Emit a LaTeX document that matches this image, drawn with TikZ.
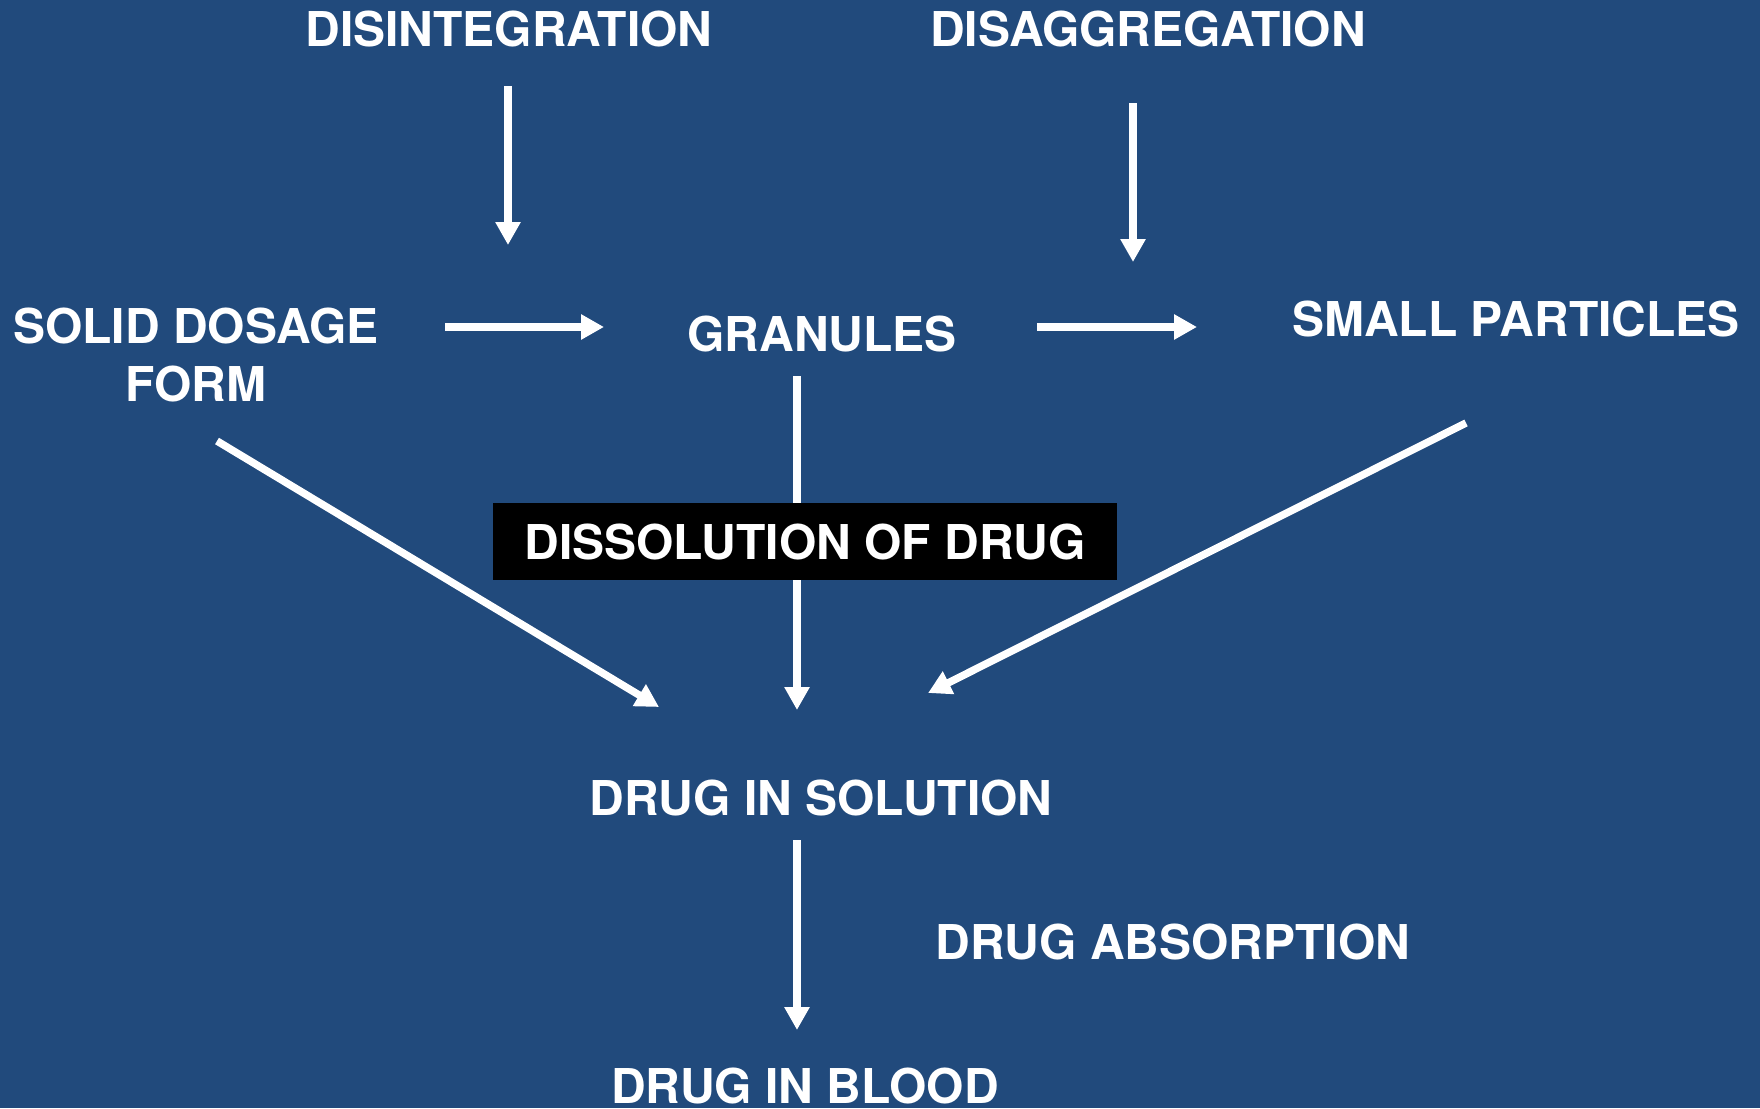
\documentclass[tikz,border=0pt]{standalone}
\usepackage{fontspec}
\setmainfont{TeX Gyre Heros}
\usetikzlibrary{arrows.meta}
\definecolor{bgblue}{HTML}{214A7C}
\begin{document}
\begin{tikzpicture}[x=1pt,y=-1pt,
  lbl/.style={text=white,font=\fontsize{48}{58}\selectfont\bfseries,inner sep=0pt,anchor=base,align=center},
  conn/.style={draw=white,line width=7.5pt,-{Triangle[width=24pt,length=23pt]}},
  boxlbl/.style={fill=black,text=white,font=\fontsize{48}{58}\selectfont\bfseries,minimum width=624pt,minimum height=77pt,inner sep=0pt}]
\useasboundingbox (0,0) rectangle (1760,1108);
\fill[bgblue] (0,0) rectangle (1760,1108);
% labels
\node[lbl] (disint) at (509,47) {DISINTEGRATION};
\node[lbl] (disagg) at (1148,47) {DISAGGREGATION};
\node[lbl] (solid) at (196,401) {SOLID DOSAGE\\FORM};
\node[lbl] (gran) at (822,351) {GRANULES};
\node[lbl] (small) at (1516,336) {SMALL PARTICLES};
\node[lbl] (sol) at (821,815) {DRUG IN SOLUTION};
\node[lbl] (absorb) at (1173,959) {DRUG ABSORPTION};
\node[lbl] (blood) at (805,1103) {DRUG IN BLOOD};
% connector end points
\coordinate (a1s) at (508,86);   \coordinate (a1e) at (508,245);
\coordinate (a2s) at (1133,103); \coordinate (a2e) at (1133,262);
\coordinate (a3s) at (445,327);  \coordinate (a3e) at (604,327);
\coordinate (a4s) at (1037,327); \coordinate (a4e) at (1197,327);
\coordinate (gs) at (797,376);   \coordinate (ge) at (797,710);
\coordinate (ls) at (217,441);   \coordinate (le) at (659,707);
\coordinate (rs) at (1466,423);  \coordinate (re) at (928,693);
\coordinate (bs) at (797,840);   \coordinate (be) at (797,1030);
% connectors
\draw[conn] (a1s) -- (a1e);
\draw[conn] (a2s) -- (a2e);
\draw[conn] (a3s) -- (a3e);
\draw[conn] (a4s) -- (a4e);
\draw[conn] (gs) -- (ge);
\draw[conn] (ls) -- (le);
\draw[conn] (rs) -- (re);
\draw[conn] (bs) -- (be);
% black label box
\node[boxlbl] (diss) at (805,541.5) {DISSOLUTION OF DRUG};
\end{tikzpicture}
\end{document}
